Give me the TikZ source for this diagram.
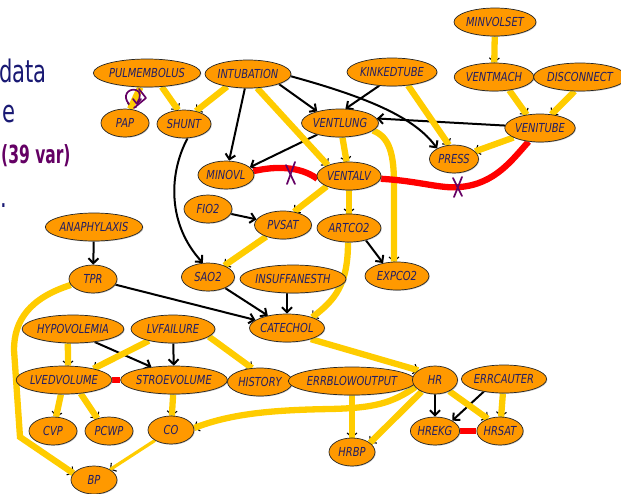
\documentclass[tikz,border=0pt]{standalone}
\usepackage{fontspec}
\newfontfamily\nodefont[FakeStretch=0.8]{DejaVu Sans}
\newfontfamily\headfont[FakeStretch=0.68]{DejaVu Sans}
\newfontfamily\inkfont[FakeStretch=0.62]{DejaVu Sans}
\usetikzlibrary{shapes.geometric,arrows.meta,backgrounds,shadows}
\definecolor{nodeorange}{RGB}{255,153,0}
\definecolor{nodetext}{RGB}{35,30,100}
\definecolor{edgeyellow}{RGB}{255,204,0}
\definecolor{edgered}{RGB}{255,0,0}
\definecolor{headblue}{RGB}{25,25,115}
\definecolor{inkpurple}{RGB}{100,0,100}
\tikzset{
  bn/.style={ellipse, draw=black!85, line width=0.7pt, fill=nodeorange, minimum height=28pt, inner sep=0pt, text=nodetext,
    font=\nodefont\itshape\fontsize{12.4}{12.4}\selectfont,
    general shadow={fill=black!40, opacity=0.5, shadow xshift=0.8pt, shadow yshift=-0.8pt}},
  mw/.style={minimum width=#1pt},
  blk/.style={draw=black, line width=2pt, -{Straight Barb[length=5pt,width=10pt]}},
  yel/.style={preaction={draw=black, line width=1.1pt, -{Straight Barb[length=4pt,width=10pt]}}, draw=edgeyellow, line width=6.3pt},
  redl/.style={draw=edgered, line width=6.3pt},
  ink/.style={draw=inkpurple, line width=1.7pt, line cap=round, line join=round},
  headtxt/.style={inner sep=0pt, text=headblue, font=\headfont\fontsize{31}{31}\selectfont}
}
\begin{document}
\begin{tikzpicture}[x=1pt,y=-1pt]
\useasboundingbox (0,0) rectangle (621,493);
% left text
\node[headtxt, anchor=base east] (h1) at (47,82) {data};
\node[headtxt, anchor=base east] (h2) at (16,122) {e};
\node[inner sep=0pt, text=inkpurple, font=\inkfont\bfseries\fontsize{25}{25}\selectfont, anchor=base west] (h3) at (1,163) {(39 var)};
\node[headtxt, anchor=base west] (h4) at (0,207) {.};
% nodes
\node[bn,mw=82] (MINVOLSET) at (495,22) {MINVOLSET};
\node[bn,mw=94] (PULMEMBOLUS) at (147,73) {PULMEMBOLUS};
\node[bn,mw=86] (INTUBATION) at (248,74) {INTUBATION};
\node[bn,mw=84] (KINKEDTUBE) at (392,72) {KINKEDTUBE};
\node[bn,mw=68] (VENTMACH) at (494,77) {VENTMACH};
\node[bn,mw=82] (DISCONNECT) at (580,77) {DISCONNECT};
\node[bn,mw=48] (PAP) at (125,123) {PAP};
\node[bn,mw=54] (SHUNT) at (184,124) {SHUNT};
\node[bn,mw=64] (VENTLUNG) at (340,123) {VENTLUNG};
\node[bn,mw=65] (VENITUBE) at (540,128) {VENITUBE};
\node[bn,mw=49] (PRESS) at (454,159) {PRESS};
\node[bn,mw=56] (MINOVL) at (226,175) {MINOVL};
\node[bn,mw=64] (VENTALV) at (349,176) {VENTALV};
\node[bn,mw=48] (FIO2) at (208,209) {FIO2};
\node[bn,mw=57] (PVSAT) at (283,225) {PVSAT};
\node[bn,mw=64] (ARTCO2) at (349,228) {ARTCO2};
\node[bn,mw=84] (ANAPHYLAXIS) at (94,227) {ANAPHYLAXIS};
\node[bn,mw=48] (TPR) at (93,279) {TPR};
\node[bn,mw=53] (SAO2) at (208,277) {SAO2};
\node[bn,mw=93] (INSUFFANESTH) at (293,279) {INSUFFANESTH};
\node[bn,mw=64] (EXPCO2) at (397,276) {EXPCO2};
\node[bn,mw=64] (CATECHOL) at (287,328) {CATECHOL};
\node[bn,mw=84] (HYPOVOLEMIA) at (73,329) {HYPOVOLEMIA};
\node[bn,mw=84] (LVFAILURE) at (173,329) {LVFAILURE};
\node[bn,mw=94] (LVEDVOLUME) at (64,380) {LVEDVOLUME};
\node[bn,mw=94] (STROEVOLUME) at (174,380) {STROEVOLUME};
\node[bn,mw=65] (HISTORY) at (260,382) {HISTORY};
\node[bn,mw=110] (ERRBLOWOUTPUT) at (352,381) {ERRBLOWOUTPUT};
\node[bn,mw=45] (HR) at (435,380) {HR};
\node[bn,mw=71] (ERRCAUTER) at (504,379) {ERRCAUTER};
\node[bn,mw=48] (CVP) at (53,431) {CVP};
\node[bn,mw=48] (PCWP) at (109,431) {PCWP};
\node[bn,mw=46] (CO) at (171,430) {CO};
\node[bn,mw=45] (HREKG) at (435,431) {HREKG};
\node[bn,mw=46] (HRSAT) at (500,431) {HRSAT};
\node[bn,mw=46] (HRBP) at (352,452) {HRBP};
\node[bn,mw=46] (BP) at (94,480) {BP};
\begin{scope}[on background layer]
% black arrows
\draw[blk] (INTUBATION) -- (MINOVL);
\draw[blk] (INTUBATION.-18) -- (VENTLUNG.153);
\draw[blk] (INTUBATION.-3) .. controls (370,98) and (415,118) .. (PRESS.148);
\draw[blk] (KINKEDTUBE.227) -- (VENTLUNG.69);
\draw[blk] (VENITUBE.176) -- (VENTLUNG.7);
\draw[blk] (VENTLUNG.207) -- (MINOVL.18);
\draw[blk] (SHUNT.-76) .. controls (168,175) and (168,225) .. (SAO2.110);
\draw[blk] (FIO2) -- (PVSAT);
\draw[blk] (ANAPHYLAXIS) -- (TPR);
\draw[blk] (TPR) -- (CATECHOL);
\draw[blk] (SAO2) -- (CATECHOL);
\draw[blk] (CATECHOL.north |- INSUFFANESTH.south) -- (CATECHOL.north);
\draw[blk] (ARTCO2.-36) -- (EXPCO2.137);
\draw[blk] (HYPOVOLEMIA.-31) -- (STROEVOLUME.150);
\draw[blk] (LVFAILURE) -- (STROEVOLUME);
\draw[blk] (HR) -- (HREKG);
\draw[blk] (ERRCAUTER.212) -- (HREKG.31);
% yellow edges
\draw[yel] (PULMEMBOLUS.-115) -- (PAP.70);
\draw[yel] (PULMEMBOLUS.-43) -- (SHUNT.113);
\draw[yel] (INTUBATION.211) -- (SHUNT.47);
\draw[yel] (INTUBATION.-57) -- (VENTALV.153);
\draw[yel] (VENTLUNG) -- (VENTALV);
\draw[yel] (VENTLUNG.-13) .. controls (390,137) and (394,155) .. (394,185) -- (EXPCO2.102);
\draw[yel] (KINKEDTUBE.-40) -- (PRESS.110);
\draw[yel] (MINVOLSET) -- (VENTMACH);
\draw[yel] (VENTMACH.-41) -- (VENITUBE.135);
\draw[yel] (DISCONNECT.-111) -- (VENITUBE.50);
\draw[yel] (VENITUBE) -- (PRESS);
\draw[yel] (VENTALV.205) -- (PVSAT.50);
\draw[yel] (VENTALV) -- (ARTCO2);
\draw[yel] (PVSAT) -- (SAO2);
\draw[yel] (ARTCO2.-94) .. controls (348,285) and (335,300) .. (CATECHOL.23);
\draw[yel] (TPR.195) .. controls (30,298) and (14,320) .. (14,350) -- (20,437) -- (BP.162);
\draw[yel] (HYPOVOLEMIA.-110) -- (LVEDVOLUME.74);
\draw[yel] (LVFAILURE.206) -- (LVEDVOLUME.21);
\draw[yel] (LVFAILURE.-12) -- (HISTORY.120);
\draw[yel] (CATECHOL.-25) -- (HR.150);
\draw[yel] (LVEDVOLUME) -- (CVP);
\draw[yel] (LVEDVOLUME.-39) -- (PCWP.133);
\draw[yel] (STROEVOLUME) -- (CO);
\draw[yel] (HR.200) .. controls (392,403) and (375,408) .. (330,409) .. controls (270,410) and (230,414) .. (CO.5);
\draw[yel] (HR.221) -- (HRBP.27);
\draw[yel] (ERRBLOWOUTPUT) -- (HRBP);
\draw[yel] (HR.-38) -- (HRSAT.135);
\draw[yel] (ERRCAUTER) -- (HRSAT);
\draw[yel, line width=3.2pt] (CO) -- (BP);
% red edges
\draw[redl] (MINOVL.8) .. controls (275,166) and (300,166) .. (VENTALV.185);
\draw[redl] (VENTALV.-5) .. controls (420,181) and (440,189) .. (460,187) .. controls (495,184) and (512,160) .. (VENITUBE.-130);
\draw[redl] (LVEDVOLUME) -- (STROEVOLUME);
\draw[redl] (HREKG) -- (HRSAT);
\end{scope}
% handwritten marks
\draw[ink] (286,165) -- (295,184);
\draw[ink] (295,162) -- (287,184);
\draw[ink] (453,178) -- (462,196);
\draw[ink] (462,177) -- (454,197);
\draw[ink] (129,104) .. controls (122,96) and (128,88) .. (136,90) .. controls (141,91) and (141,98) .. (137,103);
\draw[ink] (133,99) -- (137,104) -- (141,99);
\draw[ink] (139,89) -- (146,98) -- (134,108);
\end{tikzpicture}
\end{document}
